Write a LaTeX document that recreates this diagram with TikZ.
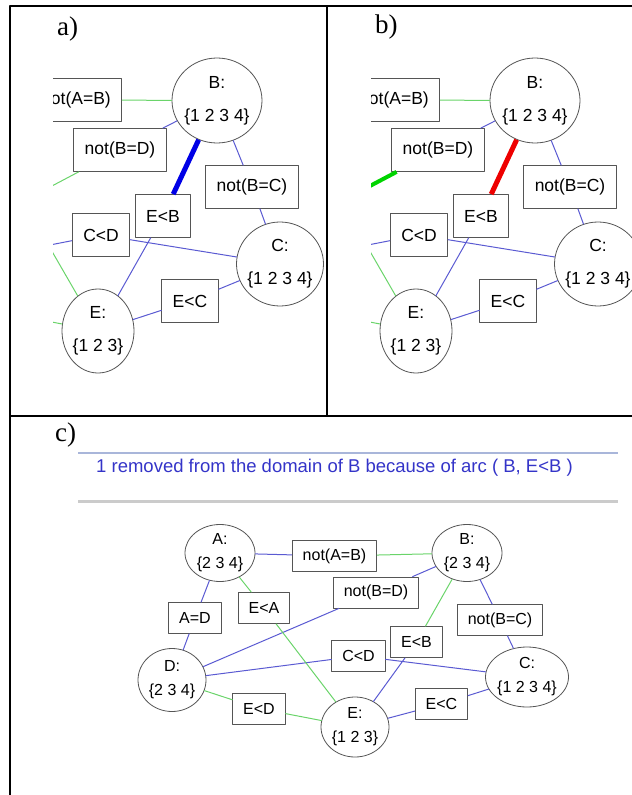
\documentclass[tikz,border=0pt]{standalone}
\usepackage{fontspec}
\setmainfont{Liberation Serif}
\setsansfont{Liberation Sans}
\usetikzlibrary{shapes.geometric}
\definecolor{ArcBlue}{HTML}{5A5AD2}
\definecolor{ArcGreen}{HTML}{6AD46A}
\definecolor{NodeGray}{HTML}{555555}
\definecolor{MsgBlue}{HTML}{3434C8}
\definecolor{RuleBlue}{HTML}{A9B6DA}
\definecolor{RuleGray}{HTML}{CBCBCB}
\definecolor{HotBlue}{HTML}{0000E6}
\definecolor{HotRed}{HTML}{EE0000}
\definecolor{HotGreen}{HTML}{00D400}
\newcommand{\drawzoomedgraph}[5]{%
  \begin{scope}[shift={(#2,0)}]
    \clip (53,48) rectangle (#3,414);
    \coordinate (#1D) at (-124,279);
    \coordinate (#1EA) at (20,196);
    \coordinate (#1ED) at (-20,308);
    \node[varnode,minimum width=90bp,minimum height=85bp,
          label={[vartxt]center:{B:\\\{1 2 3 4\}}}] (#1B) at (217,100.5) {};
    \node[varnode,minimum width=87bp,minimum height=84bp,
          label={[vartxt]center:{C:\\\{1 2 3 4\}}}] (#1C) at (280,264) {};
    \node[varnode,minimum width=72bp,minimum height=84bp,
          label={[vartxt]center:{E:\\\{1 2 3\}}}] (#1E) at (98,331) {};
    \node[consbox] (#1nAB) at (76,100) {not(A=B)};
    \node[consbox] (#1nBD) at (120,150) {not(B=D)};
    \node[consbox] (#1nBC) at (252,187) {not(B=C)};
    \node[consbox] (#1EB) at (163,216) {E<B};
    \node[consbox] (#1CD) at (101,235) {C<D};
    \node[consbox] (#1EC) at (190,301) {E<C};
    \draw[arcgreen] (#1nAB) -- (#1B);
    \draw[arcblue] (#1nBD) -- (#1B);
    \draw[#5] (#1nBD) -- (#1D);
    \draw[#4] (#1EB) -- (#1B);
    \draw[arcblue] (#1EB) -- (#1E);
    \draw[arcblue] (#1B) -- (#1nBC);
    \draw[arcblue] (#1nBC) -- (#1C);
    \draw[arcblue] (#1CD) -- (#1C);
    \draw[arcblue] (#1CD) -- (#1D);
    \draw[arcblue] (#1E) -- (#1EC);
    \draw[arcblue] (#1EC) -- (#1C);
    \draw[arcgreen] (#1E) -- (#1EA);
    \draw[arcgreen] (#1E) -- (#1ED);
  \end{scope}%
}

\begin{document}
\begin{tikzpicture}[x=1bp,y=-1bp,line cap=round,line join=round,
    varnode/.style={ellipse,draw=NodeGray,fill=white,inner sep=0pt,line width=0.8bp},
    vartxt/.style={align=center,inner sep=0pt,text=black,
                   font=\sffamily\fontsize{17.5bp}{33bp}\selectfont},
    vartxtsmall/.style={align=center,inner sep=0pt,text=black,
                   font=\sffamily\fontsize{16bp}{24bp}\selectfont},
    consbox/.style={draw=NodeGray,fill=white,line width=0.8bp,inner xsep=11bp,
                    inner ysep=0pt,minimum height=43bp,
                    font=\sffamily\fontsize{17.5bp}{20bp}\selectfont},
    consboxsmall/.style={consbox,inner xsep=10.5bp,minimum height=31bp,
                    font=\sffamily\fontsize{16bp}{18bp}\selectfont},
    arcblue/.style={ArcBlue,line width=1bp},
    arcgreen/.style={ArcGreen,line width=1bp},
    hotarc/.style={#1,line width=5bp,line cap=butt},
    panellabel/.style={anchor=base west,inner sep=0pt,
                       font=\fontsize{27bp}{30bp}\selectfont}]
  \useasboundingbox (0,0) rectangle (632,795);

  % panels a) and b): the same zoomed view of the network
  \drawzoomedgraph{a}{0}{327}{hotarc=HotBlue}{arcgreen}
  \drawzoomedgraph{b}{318}{314}{hotarc=HotRed}{hotarc=HotGreen,line width=4bp}

  % panel c): message and whole network
  \draw[RuleBlue,line width=1.5bp,line cap=butt] (78,453) -- (618,453);
  \draw[RuleGray,line width=3bp,line cap=butt] (78,501) -- (618,501);
  \node[anchor=base west,inner sep=0pt,text=MsgBlue,
        font=\sffamily\fontsize{18.5bp}{22bp}\selectfont] (msg) at (96,472)
    {1 removed from the domain of B because of arc ( B, E<B )};

  \node[varnode,minimum width=70bp,minimum height=57bp,
        label={[vartxtsmall]center:{A:\\\{2 3 4\}}}] (cA) at (220,553) {};
  \node[varnode,minimum width=70bp,minimum height=57bp,
        label={[vartxtsmall]center:{B:\\\{2 3 4\}}}] (cB) at (467,553) {};
  \node[varnode,minimum width=68bp,minimum height=63bp,
        label={[vartxtsmall]center:{D:\\\{2 3 4\}}}] (cD) at (172,680) {};
  \node[varnode,minimum width=83bp,minimum height=60bp,
        label={[vartxtsmall]center:{C:\\\{1 2 3 4\}}}] (cC) at (527,677) {};
  \node[varnode,minimum width=68bp,minimum height=60bp,
        label={[vartxtsmall]center:{E:\\\{1 2 3\}}}] (cE) at (355,727) {};
  \node[consboxsmall] (cnAB) at (334.5,556) {not(A=B)};
  \node[consboxsmall] (cnBD) at (376,592.5) {not(B=D)};
  \node[consboxsmall] (cEA) at (264,608) {E<A};
  \node[consboxsmall] (cAD) at (195,618) {A=D};
  \node[consboxsmall] (cnBC) at (500,620) {not(B=C)};
  \node[consboxsmall] (cEB) at (416.5,642) {E<B};
  \node[consboxsmall] (cCD) at (358.5,656) {C<D};
  \node[consboxsmall] (cED) at (259,708.5) {E<D};
  \node[consboxsmall] (cEC) at (441.5,704) {E<C};
  \foreach \u/\v in {cA/cnAB,cB/cnBD,cnBD/cD,cA/cAD,cAD/cD,cB/cnBC,cnBC/cC,
                     cEB/cE,cD/cCD,cCD/cC,cE/cEC,cEC/cC}
    \draw[arcblue] (\u) -- (\v);
  \foreach \u/\v in {cnAB/cB,cA/cEA,cEA/cE,cB/cEB,cD/cED,cED/cE}
    \draw[arcgreen] (\u) -- (\v);

  % panel labels and table rules
  \node[panellabel] (lbla) at (57,36) {a)};
  \node[panellabel] (lblb) at (375,34) {b)};
  \node[panellabel] (lblc) at (55,441) {c)};
  \draw[line width=2bp,line cap=butt] (10,795) -- (10,6) -- (632,6);
  \draw[line width=2bp,line cap=butt] (327,6) -- (327,416);
  \draw[line width=2bp,line cap=butt] (10,416) -- (632,416);
\end{tikzpicture}
\end{document}
